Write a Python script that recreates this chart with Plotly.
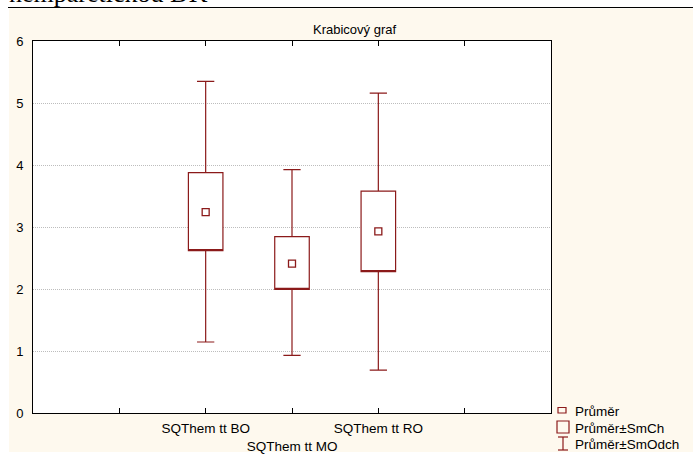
import plotly.graph_objects as go

# ---- data ----
categories = ["SQThem tt BO", "SQThem tt MO", "SQThem tt RO"]
cat_pos = [2, 3, 4]
mean_vals = [3.24, 2.41, 2.93]
se_low = [2.62, 1.995, 2.28]
se_high = [3.876, 2.845, 3.58]
sd_low = [1.145, 0.93, 0.69]
sd_high = [5.35, 3.925, 5.16]
y_ticks = [0, 1, 2, 3, 4, 5, 6]

RED = "#8B1A1A"
CREAM = "#FEF9EE"
W, H = 693, 457
L, R, T, B = 33, 551, 41, 413


def px(x):
    return (x - L) / (R - L)


def py(y):
    return (B - y) / (B - T)


fig = go.Figure()

fig.add_trace(go.Box(
    x=cat_pos,
    q1=se_low, median=se_low, q3=se_high,
    lowerfence=sd_low, upperfence=sd_high,
    width=0.4, whiskerwidth=0.5,
    fillcolor="white",
    line=dict(color=RED, width=1.2),
    showlegend=False, hoverinfo="skip",
))

fig.add_trace(go.Scatter(
    x=cat_pos, y=mean_vals, mode="markers",
    marker=dict(symbol="square-open", size=7, color=RED, line=dict(width=1.3)),
    showlegend=False,
))

shapes = [
    # cream background panel
    dict(type="rect", xref="paper", yref="paper", layer="below",
         x0=px(9), x1=px(W + 5), y0=py(452), y1=py(8.5),
         fillcolor=CREAM, line=dict(width=0)),
    # white plot area
    dict(type="rect", xref="paper", yref="paper", layer="below",
         x0=0, x1=1, y0=0, y1=1, fillcolor="white", line=dict(width=0)),
    # top rule line
    dict(type="line", xref="paper", yref="paper",
         x0=px(8), x1=px(W + 5), y0=py(7.5), y1=py(7.5),
         line=dict(color="black", width=1.2)),
    # legend glyphs
    dict(type="rect", xref="paper", yref="paper",
         x0=px(558), x1=px(566), y0=py(413), y1=py(407.5),
         line=dict(color=RED, width=1.2)),
    dict(type="rect", xref="paper", yref="paper",
         x0=px(557), x1=px(569), y0=py(433), y1=py(421),
         line=dict(color=RED, width=1.2)),
    dict(type="line", xref="paper", yref="paper",
         x0=px(563), x1=px(563), y0=py(450), y1=py(437),
         line=dict(color=RED, width=1.2)),
    dict(type="line", xref="paper", yref="paper",
         x0=px(558), x1=px(568), y0=py(437), y1=py(437),
         line=dict(color=RED, width=1.2)),
    dict(type="line", xref="paper", yref="paper",
         x0=px(558), x1=px(568), y0=py(450), y1=py(450),
         line=dict(color=RED, width=1.2)),
]

legend_labels = ["Průměr", "Průměr±SmCh", "Průměr±SmOdch"]
legend_y = [411, 428, 444]

annotations = [
    dict(text="nemparetickou DK", xref="paper", yref="paper",
         x=px(7), y=py(10), xanchor="left", yanchor="bottom", showarrow=False,
         font=dict(family="Liberation Serif", size=26, color="black")),
    dict(text="Krabicový graf", xref="paper", yref="paper",
         x=px(354), y=py(29), xanchor="center", yanchor="middle", showarrow=False,
         font=dict(family="Liberation Sans", size=13, color="black")),
]
for lab, yy in zip(legend_labels, legend_y):
    annotations.append(dict(text=lab, xref="paper", yref="paper",
                            x=px(573), y=py(yy), xanchor="left", yanchor="middle",
                            showarrow=False,
                            font=dict(family="Liberation Sans", size=13.5, color="black")))

ticktext = [categories[0], "<br>" + categories[1], categories[2]]

fig.update_layout(
    width=W, height=H,
    margin=dict(l=L, r=W - R, t=T, b=H - B, pad=0, autoexpand=False),
    paper_bgcolor="white", plot_bgcolor="rgba(0,0,0,0)",
    font=dict(family="Liberation Sans", size=13, color="black"),
    shapes=shapes, annotations=annotations,
    showlegend=False,
    xaxis=dict(range=[0, 6], tickvals=cat_pos, ticktext=ticktext, tickangle=0,
               automargin=False,
               ticks="inside", ticklen=5, tickcolor="black", ticklabelstandoff=3,
               minor=dict(tickvals=[1, 5], ticks="inside", ticklen=5, tickcolor="black"),
               showline=True, linecolor="black", linewidth=1, mirror="ticks",
               showgrid=False, zeroline=False, fixedrange=True,
               tickfont=dict(size=13.5)),
    yaxis=dict(range=[0, 6], tickvals=y_ticks, ticks="", ticklabelstandoff=6,
               automargin=False,
               showline=True, linecolor="black", linewidth=1, mirror=True,
               showgrid=True, gridcolor="#bdbdbd", griddash="1px,1px", gridwidth=1,
               zeroline=False, fixedrange=True, tickfont=dict(size=13)),
)

fig.write_html("out.html")
